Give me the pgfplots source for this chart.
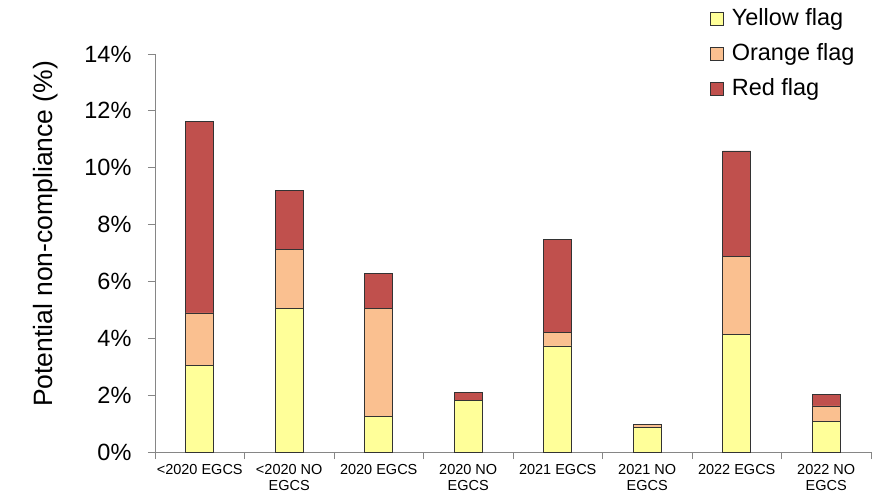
\documentclass[border=0pt]{standalone}
\usepackage{fontspec}
\setmainfont{Liberation Sans}
\usepackage{pgfplots}
\pgfplotsset{compat=1.18}
\definecolor{cyel}{HTML}{FFFF99}
\definecolor{cora}{HTML}{FAC090}
\definecolor{cred}{HTML}{C0504D}
\definecolor{caxis}{HTML}{868686}
\begin{document}
\begin{tikzpicture}
\begin{axis}[
  name=ax,
  scale only axis, width=716pt, height=398pt,
  ybar stacked, bar width=28pt,
  xmin=-0.5, xmax=7.5, ymin=0, ymax=14,
  axis x line*=bottom, axis y line*=left,
  axis line style={caxis, line width=0.8pt},
  tick align=outside, major tick length=7pt,
  tick style={caxis, line width=0.8pt},
  xtick={-0.5,0.5,...,7.5}, xticklabels={},
  extra x ticks={0,1,2,3,4,5,6,7},
  extra x tick labels={{<2020 EGCS},{<2020 NO\\EGCS},{2020 EGCS},{2020 NO\\EGCS},{2021 EGCS},{2021 NO\\EGCS},{2022 EGCS},{2022 NO\\EGCS}},
  extra x tick style={major tick length=0pt, tick style={draw=none}},
  xticklabel style={font=\fontsize{14.5}{16}\selectfont, align=center, yshift=-9pt},
  ytick={0,2,...,14},
  yticklabels={0\%,2\%,4\%,6\%,8\%,10\%,12\%,14\%},
  yticklabel style={font=\fontsize{23.5}{26}\selectfont, xshift=-13pt},
  ylabel={Potential non-compliance (\%)},
  ylabel style={font=\fontsize{26.5}{30}\selectfont, at={(axis description cs:-0.153,0.548)}, anchor=center},
  legend cell align=left,
  legend image code/.code={\draw[#1, line width=0.7pt] (0pt,-6.5pt) rectangle (13pt,6.5pt); \path (20pt,0pt);},
  legend style={at={(axis description cs:0.775,1.118)}, anchor=north west, draw=none, fill=none,
    inner sep=0pt, row sep=11pt, font=\fontsize{23.5}{26}\selectfont,
    nodes={inner sep=1pt, text height=17pt, text depth=5pt}},
]
\addplot[fill=cyel, draw=black!80, line width=0.7pt] coordinates {(0,3.05) (1,5.06) (2,1.25) (3,1.81) (4,3.73) (5,0.86) (6,4.13) (7,1.07)};
\addplot[fill=cora, draw=black!80, line width=0.7pt] coordinates {(0,1.84) (1,2.07) (2,3.79) (3,0) (4,0.47) (5,0.11) (6,2.76) (7,0.55)};
\addplot[fill=cred, draw=black!80, line width=0.7pt] coordinates {(0,6.74) (1,2.06) (2,1.25) (3,0.30) (4,3.29) (5,0) (6,3.70) (7,0.41)};
\legend{Yellow flag, Orange flag, Red flag}
\end{axis}
\pgfresetboundingbox
\path[use as bounding box] (ax.south west) ++(-155pt,-46pt) rectangle ++(886pt,498pt);
\end{tikzpicture}
\end{document}
